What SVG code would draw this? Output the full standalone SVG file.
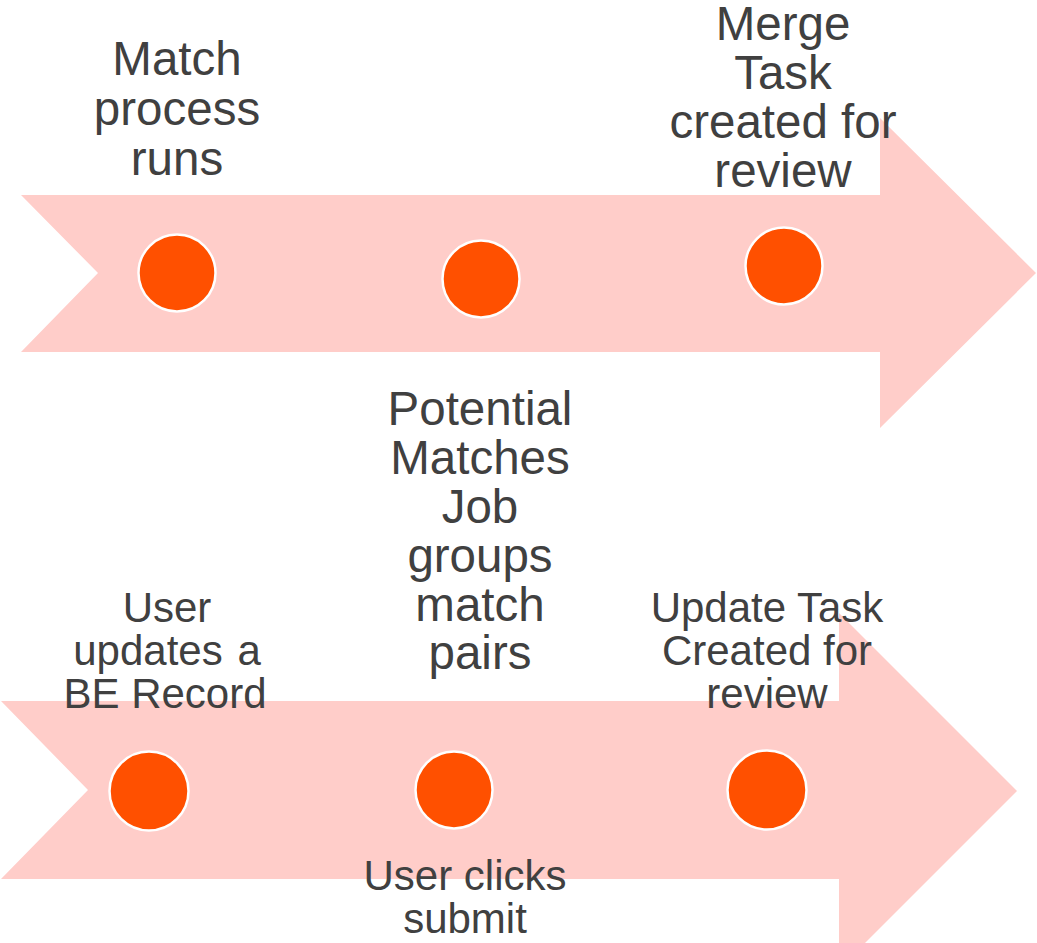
<svg xmlns="http://www.w3.org/2000/svg" width="1037" height="943" viewBox="0 0 1037 943">
<style>
.arrow{fill:#FFCDC9;stroke:none}
.dot{fill:#FF5000;stroke:#FFFFFF;stroke-width:2.5}
.big{font-family:"Liberation Sans",Arial,sans-serif;font-size:47.5px;fill:#404040;text-anchor:middle}
.small{font-family:"Liberation Sans",Arial,sans-serif;font-size:42px;fill:#404040;text-anchor:middle}
</style>
<g id="connectors">
<polygon id="arrow-top" class="arrow" points="21,195 880,195 880,118 1036,273 880,428 880,352 21,352 98,273"/>
<polygon id="arrow-bottom" class="arrow" points="1,701 839,701 839,613 1017,791 839,969 839,879 1,879 88,790"/>
</g>
<g id="node-match">
<circle class="dot" cx="177" cy="273" r="38.5"/>
<text class="big"><tspan x="177" y="75">Match</tspan><tspan x="177" y="125">process</tspan><tspan x="177" y="175">runs</tspan></text>
</g>
<g id="node-potential">
<circle class="dot" cx="481" cy="279" r="38.5"/>
<text class="big"><tspan x="480" y="425">Potential</tspan><tspan x="480" y="474">Matches</tspan><tspan x="480" y="523">Job</tspan><tspan x="480" y="572">groups</tspan><tspan x="480" y="621">match</tspan><tspan x="480" y="669">pairs</tspan></text>
</g>
<g id="node-merge">
<circle class="dot" cx="784" cy="266" r="38.5"/>
<text class="big"><tspan x="783" y="40">Merge</tspan><tspan x="783" y="89">Task</tspan><tspan x="783" y="138">created for</tspan><tspan x="783" y="187">review</tspan></text>
</g>
<g id="node-user-updates">
<circle class="dot" cx="149" cy="791" r="39.5"/>
<text class="small"><tspan x="167" y="622">User</tspan><tspan x="167" y="665" word-spacing="3">updates a</tspan><tspan x="165" y="708">BE Record</tspan></text>
</g>
<g id="node-user-clicks">
<circle class="dot" cx="454" cy="790" r="38.5"/>
<text class="small"><tspan x="465" y="890">User clicks</tspan><tspan x="465" y="933">submit</tspan></text>
</g>
<g id="node-update-task">
<circle class="dot" cx="767" cy="790" r="39.5"/>
<text class="small"><tspan x="767" y="622">Update Task</tspan><tspan x="767" y="665">Created for</tspan><tspan x="767" y="708">review</tspan></text>
</g>
</svg>
